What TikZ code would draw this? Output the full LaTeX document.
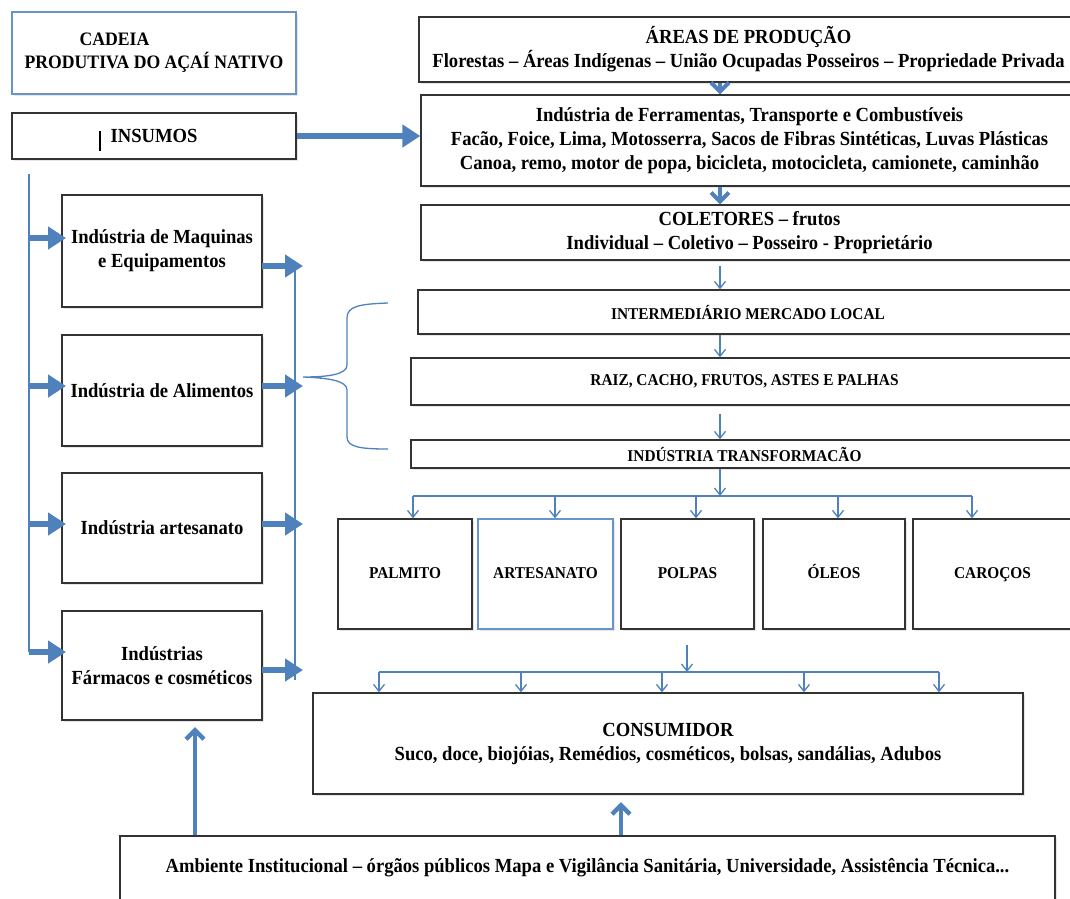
\documentclass[tikz,border=0pt]{standalone}
\usepackage{fontspec}
\setmainfont{Liberation Serif}[FakeStretch=0.93]
\usetikzlibrary{arrows.meta,shadows}
\definecolor{accblue}{RGB}{79,129,189}
\newcommand\lbl{\fontsize{20}{24}\selectfont\bfseries}
\newcommand\lblsm{\fontsize{16.5}{22}\selectfont\bfseries}
\tikzset{
  box/.style={draw=black!80, line width=1.3pt, fill=white, align=center, inner sep=0pt, font=\lbl,
    drop shadow={shadow xshift=2pt, shadow yshift=-2pt, opacity=0.2}},
  bluebox/.style={box, draw=accblue!85},
  prod/.style={box, font=\lblsm, minimum height=110pt, text height=12pt, text depth=4pt},
  fat/.style={accblue, line width=6pt, -{Triangle[length=18pt,width=22pt]}},
  barb/.style={accblue, line width=4pt, -{Straight Barb[length=9pt,width=18pt]}},
  thin/.style={accblue, line width=1.3pt, -{Straight Barb[length=7pt,width=11pt]}},
  bus/.style={accblue, line width=1.3pt}
}
\begin{document}
\begin{tikzpicture}[x=1pt,y=-1pt]
	\useasboundingbox (0,0) rectangle (1070,898);
	\clip (0,0) rectangle (1070,898);
	\node[bluebox, font=\fontsize{19}{23}\selectfont\bfseries, minimum width=284pt, minimum height=82pt, align=left] (title) at (154,53) {\hspace*{55pt}CADEIA\\PRODUTIVA DO AÇAÍ NATIVO};
	\node[box, minimum width=284pt, minimum height=46pt] (insumos) at (154,136) {INSUMOS};
	\draw[line width=2pt] (100,131) -- (100,151);
	\node[box, minimum width=659pt, minimum height=65pt] (areas) at (748.5,49.5) {ÁREAS DE PRODUÇÃO\\Florestas – Áreas Indígenas – União Ocupadas Posseiros – Propriedade Privada};
	\node[box, minimum width=657pt, minimum height=91pt] (ferr) at (749.5,140.5) {Indústria de Ferramentas, Transporte e Combustíveis\\Facão, Foice, Lima, Motosserra, Sacos de Fibras Sintéticas, Luvas Plásticas\\Canoa, remo, motor de popa, bicicleta, motocicleta, camionete, caminhão};
	\node[box, minimum width=657pt, minimum height=55pt] (colet) at (749.5,232.5) {COLETORES – frutos\\Individual – Coletivo – Posseiro - Proprietário};
	\node[box, font=\lblsm, minimum width=660pt, minimum height=44pt] (inter) at (748,312) {INTERMEDIÁRIO MERCADO LOCAL};
	\node[box, font=\lblsm, minimum width=667pt, minimum height=47pt] (raiz) at (744.5,381.5) {RAIZ, CACHO, FRUTOS, ASTES E PALHAS};
	\node[box, font=\lblsm, minimum width=667pt, minimum height=28pt] (trans) at (744.5,454) {INDÚSTRIA TRANSFORMACÃO};
	\node[box, minimum width=200pt, minimum height=112pt] (maq) at (162,251) {Indústria de Maquinas\\e Equipamentos};
	\node[box, minimum width=200pt, minimum height=111pt] (alim) at (162,390.5) {Indústria de Alimentos};
	\node[box, minimum width=200pt, minimum height=110pt] (indart) at (162,528) {Indústria artesanato};
	\node[box, minimum width=200pt, minimum height=109pt] (farm) at (162,665.5) {Indústrias\\Fármacos e cosméticos};
	\node[prod, minimum width=134pt] (palmito) at (405,574) {PALMITO};
	\node[prod, draw=accblue!85, minimum width=135pt] (artes) at (545.5,574) {ARTESANATO};
	\node[prod, minimum width=133pt] (polpas) at (687.5,574) {POLPAS};
	\node[prod, minimum width=142pt] (oleos) at (834,574) {ÓLEOS};
	\node[prod, minimum width=159pt] (carocos) at (992.5,574) {CAROÇOS};
	\node[box, minimum width=710pt, minimum height=101pt] (cons) at (668,743.5) {CONSUMIDOR\\Suco, doce, biojóias, Remédios, cosméticos, bolsas, sandálias, Adubos};
	\node[box, minimum width=935pt, minimum height=64pt] (amb) at (587.5,868) {Ambiente Institucional – órgãos públicos Mapa e Vigilância Sanitária, Universidade, Assistência Técnica...};
	\coordinate (spine) at (720,0);
	\coordinate (ltop) at (29,174);
	\coordinate (lbot) at (29,652);
	\coordinate (rtop) at (295,262);
	\coordinate (rbot) at (295,680);
	\coordinate (pbus) at (720,496);
	\coordinate (cstart) at (687,645);
	\coordinate (cbus) at (687,672);
	\coordinate (ftip) at (195,727);
	\coordinate (ctip) at (621,802);
	\draw[fat] (insumos.east) -- (insumos.east -| ferr.west);
	\draw[barb] (areas.south -| spine) -- (ferr.north -| spine);
	\draw[barb] (ferr.south -| spine) -- (colet.north -| spine);
	\draw[thin] (0,266 -| spine) -- (inter.north -| spine);
	\draw[thin] (inter.south -| spine) -- (raiz.north -| spine);
	\draw[thin] (0,414 -| spine) -- (trans.north -| spine);
	\draw[thin] (trans.south -| spine) -- (pbus);
	\draw[bus] (413,496) -- (972,496);
	\foreach \n/\x in {palmito/413, artes/555, polpas/696, oleos/838, carocos/972}
		\draw[thin] (\x,496) -- (\n.north -| \x,0);
	\draw[thin] (cstart) -- (cbus);
	\draw[bus] (379,672) -- (939,672);
	\foreach \x in {379,521,662,804,939}
		\draw[thin] (\x,672) -- (cons.north -| \x,0);
	\draw[bus] (ltop) -- (lbot);
	\draw[bus] (rtop) -- (rbot);
	\foreach \n/\y in {maq/238, alim/386, indart/524, farm/652}
		\draw[fat] (29,\y) -- (66,\y);
	\foreach \n/\y in {maq/266, alim/386, indart/524, farm/670}
		\draw[fat] (262,\y) -- (303,\y);
	\draw[barb, line width=4.5pt] (amb.north -| ftip) -- (ftip);
	\draw[barb, line width=4.5pt] (amb.north -| ctip) -- (ctip);
	\draw[bus] (388,303) .. controls (360,304) and (347,306) .. (347,318) -- (347,365) .. controls (347,374) and (330,377) .. (303,377) .. controls (330,378) and (347,381) .. (347,390) -- (347,437) .. controls (347,447) and (360,449) .. (388,449);
\end{tikzpicture}
\end{document}
